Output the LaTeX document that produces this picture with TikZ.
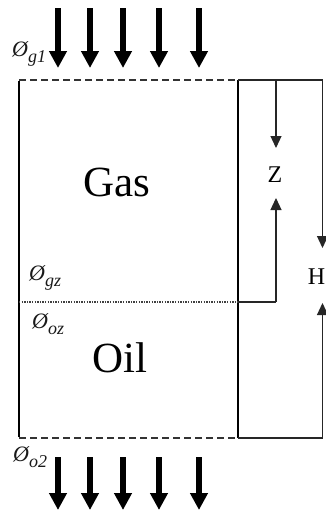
\documentclass[tikz,border=0pt]{standalone}
\usepackage{fontspec}
\setmainfont{Liberation Serif}
\usetikzlibrary{arrows.meta}
\begin{document}
\begin{tikzpicture}[x=1pt,y=-1pt,
  bigarrow/.style={line width=5.5pt,-{Triangle[width=17pt,length=17pt]}},
  thinarrow/.style={line width=1.2pt,draw=black!85,-{Triangle[width=11pt,length=12pt]}},
  wall/.style={line width=2.8pt},
  dashedwall/.style={line width=2.4pt,dash pattern=on 7pt off 4pt,draw=black!80},
  dottedline/.style={line width=1.4pt,dash pattern=on 1.3pt off 1.3pt,draw=black!75},
  thinline/.style={line width=1.2pt,draw=black!85},
  phase/.style={font=\fontsize{43}{43}\selectfont,inner sep=0pt},
  dimlabel/.style={font=\fontsize{24}{24}\selectfont,inner sep=0pt},
  philabel/.style={font=\fontsize{22}{22}\selectfont\itshape,inner sep=0pt,anchor=base west,text=black!90}
]
\useasboundingbox (0,0) rectangle (326,512);
% corner coordinates
\coordinate (TL) at (19,80);
\coordinate (TR) at (238,80);
\coordinate (BL) at (19,438);
\coordinate (BR) at (238,438);
\coordinate (OR) at (322.5,80);
\coordinate (ORB) at (322.5,438);
\coordinate (IF) at (19,302);
\coordinate (IFR) at (238,302);
\coordinate (ZX) at (276,80);
\coordinate (ZB) at (276,302);
\coordinate (zdown) at (276,148);
\coordinate (zup) at (276,198);
\coordinate (hdown) at (322.5,248);
\coordinate (hup) at (322.5,303);
% walls
\draw[dashedwall] (TL) -- (TR);
\draw[dashedwall] (BL) -- (BR);
\draw[wall] ([yshift=-1.2pt]TL) -- ([yshift=1.2pt]BL);
\draw[wall] (TR) -- (BR);
\draw[dottedline] (IF) -- (IFR);
% right-hand frame
\draw[thinline] (TR) -- (OR);
\draw[thinline] (BR) -- (ORB);
\draw[thinline] (IFR) -- (ZB);
\draw[thinarrow] (ZX) -- (zdown);
\draw[thinarrow] (ZB) -- (zup);
\draw[thinarrow] (OR) -- (hdown);
\draw[thinarrow] (ORB) -- (hup);
% labels
\node[phase] (gas) at (117,182) {Gas};
\node[phase] (oil) at (120,358) {Oil};
\node[dimlabel] (z) at (275,175) {Z};
\node[dimlabel] (h) at (316.5,277) {H};
\node[philabel] (pg1) at (12,56) {Ø\raisebox{-6pt}{\fontsize{18}{18}\selectfont g1}};
\node[philabel] (pgz) at (29,280) {Ø\raisebox{-6pt}{\fontsize{18}{18}\selectfont gz}};
\node[philabel] (poz) at (32,328) {Ø\raisebox{-6pt}{\fontsize{18}{18}\selectfont oz}};
\node[philabel] (po2) at (13,461) {Ø\raisebox{-6pt}{\fontsize{18}{18}\selectfont o2}};
% flux arrows
\foreach \i/\x in {1/58,2/90,3/123,4/159,5/199}{
  \coordinate (in\i) at (\x,8);
  \coordinate (inT\i) at (\x,68);
  \coordinate (out\i) at (\x,457);
  \coordinate (outT\i) at (\x,510);
  \draw[bigarrow] (in\i) -- (inT\i);
  \draw[bigarrow] (out\i) -- (outT\i);
}
\end{tikzpicture}
\end{document}
